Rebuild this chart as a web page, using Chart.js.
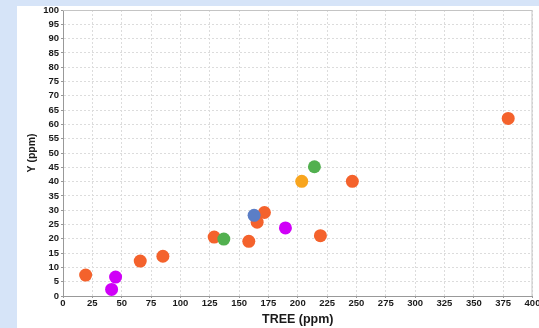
<!DOCTYPE html>
<html>
<head>
<meta charset="utf-8">
<script src="https://cdn.jsdelivr.net/npm/chart.js@4"></script>
<style>
  html, body { margin: 0; padding: 0; background: #d6e4f8; }
  #wrap { width: 539px; height: 328px; }
</style>
</head>
<body>
<div id="wrap"><canvas id="scatterChart" width="539" height="328"></canvas></div>
<script>
// values (TREE ppm vs Y ppm)
const orangeX = [19.3, 65.8, 85.1, 128.8, 158.3, 165.4, 171.6, 219.3, 246.5, 379.3];
const orangeY = [7.3, 12.2, 13.9, 20.6, 19.1, 25.8, 29.2, 21.1, 40.1, 62.1];
const magentaX = [44.8, 41.4, 189.5];
const magentaY = [6.6, 2.3, 23.8];
const greenX = [137.0, 214.2];
const greenY = [19.9, 45.2];
const yellowX = [203.4];
const yellowY = [40.1];
const blueX = [162.8];
const blueY = [28.2];

const xTitle = 'TREE (ppm)';
const yTitle = 'Y (ppm)';

const toPoints = (xs, ys) => xs.map((x, i) => ({ x, y: ys[i] }));

const makeSet = (label, xs, ys, color) => ({
  label,
  data: toPoints(xs, ys),
  backgroundColor: color,
  borderColor: color,
  borderWidth: 0,
  pointRadius: 6.5,
  pointHoverRadius: 6.5,
});

// white panel + plot frame drawn behind/around the chart
const panelPlugin = {
  id: 'panel',
  beforeDraw(chart) {
    const { ctx, width, height } = chart;
    ctx.save();
    ctx.fillStyle = '#d6e4f8';
    ctx.fillRect(0, 0, width, height);
    ctx.fillStyle = '#ffffff';
    ctx.fillRect(17, 6, width - 17, height - 6);
    ctx.restore();
  },
  afterDatasetsDraw(chart) {
    const { ctx, chartArea } = chart;
    ctx.save();
    ctx.strokeStyle = '#c4c4c4';
    ctx.lineWidth = 1;
    ctx.beginPath();
    ctx.moveTo(chartArea.left, chartArea.top + 0.5);
    ctx.lineTo(chartArea.right - 0.5, chartArea.top + 0.5);
    ctx.lineTo(chartArea.right - 0.5, chartArea.bottom);
    ctx.stroke();
    ctx.restore();
  },
};

const tickFont = { family: 'Liberation Sans, Arial, sans-serif', size: 9.5, weight: 'bold' };

new Chart(document.getElementById('scatterChart'), {
  type: 'scatter',
  data: {
    datasets: [
      makeSet('blue', blueX, blueY, '#5b7ec6'),
      makeSet('green', greenX, greenY, '#52b04f'),
      makeSet('yellow', yellowX, yellowY, '#f8a51e'),
      makeSet('magenta', magentaX, magentaY, '#d000f8'),
      makeSet('orange', orangeX, orangeY, '#f4622c'),
    ],
  },
  options: {
    responsive: false,
    animation: false,
    events: [],
    layout: { padding: { left: 17, right: 6, top: 10, bottom: 0 } },
    plugins: { legend: { display: false }, tooltip: { enabled: false } },
    scales: {
      x: {
        type: 'linear',
        min: 0,
        max: 400,
        ticks: { stepSize: 25, font: tickFont, color: '#1a1a1a', padding: 0, maxRotation: 0, autoSkip: false },
        grid: { color: '#dcdcdc', tickLength: 2, tickColor: '#999' },
        border: { color: '#999', dash: [2, 2] },
        title: {
          display: true,
          text: xTitle,
          color: '#1a1a1a',
          font: { family: 'Liberation Sans, Arial, sans-serif', size: 12.5, weight: 'bold' },
          padding: { top: 0, bottom: 0.5 },
        },
        afterFit(scale) {
          scale.height = 32;
          scale.paddingLeft = 0;
          scale.paddingRight = 0;
        },
      },
      y: {
        type: 'linear',
        min: 0,
        max: 100,
        ticks: { stepSize: 5, font: tickFont, color: '#1a1a1a', padding: 2, autoSkip: false },
        grid: { color: '#dcdcdc', tickLength: 2, tickColor: '#999' },
        border: { color: '#999', dash: [2, 2] },
        title: {
          display: true,
          text: yTitle,
          color: '#1a1a1a',
          font: { family: 'Liberation Sans, Arial, sans-serif', size: 10.5, weight: 'bold' },
          padding: { top: 9, bottom: 0 },
        },
        afterFit(scale) {
          scale.width = 46;
          scale.paddingTop = 0;
          scale.paddingBottom = 0;
        },
      },
    },
  },
  plugins: [panelPlugin],
});
</script>
</body>
</html>
